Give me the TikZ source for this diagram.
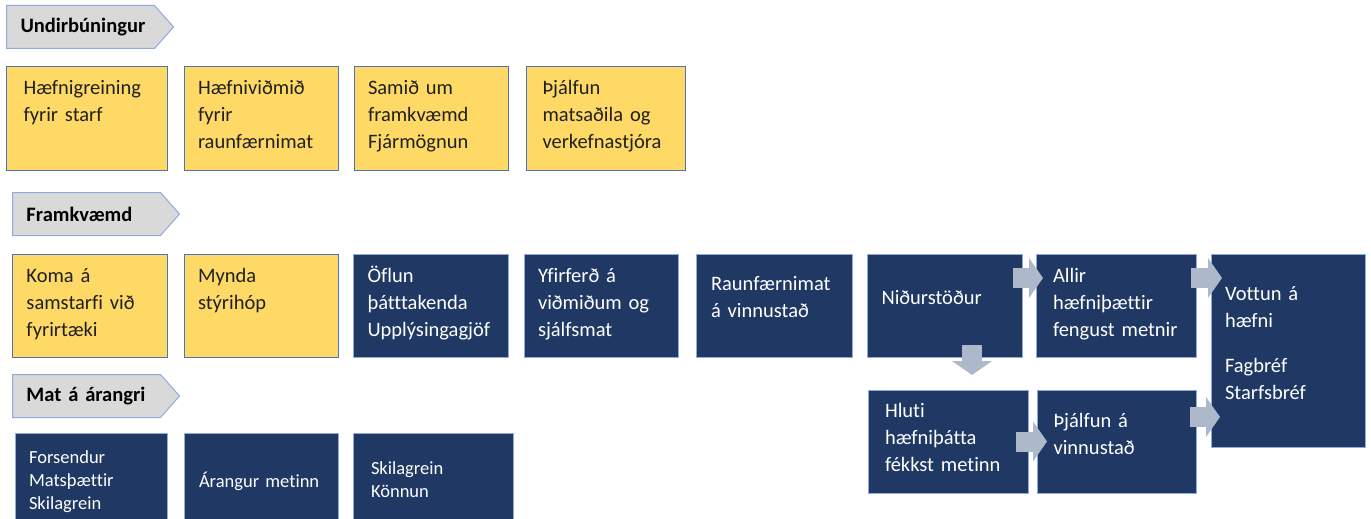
\documentclass[tikz,border=0pt]{standalone}
\usepackage{fontspec}
\setmainfont{Carlito}[Ligatures=NoCommon]
\usepackage{tikz}
\usetikzlibrary{shapes,arrows.meta,positioning,calc}
\definecolor{gold}{HTML}{FFD966}
\definecolor{navy}{HTML}{203864}
\definecolor{edgeblue}{HTML}{4F73B8}
\definecolor{paleblue}{HTML}{8FAADC}
\definecolor{greyfill}{HTML}{D9D9D9}
\definecolor{arrowgrey}{HTML}{ADB9CA}
\definecolor{inkgrey}{HTML}{202020}
\hyphenpenalty=10000
\exhyphenpenalty=10000
\tikzset{
    phase/.style={signal, signal to=east, signal pointer angle=97, draw=paleblue, line width=1pt, fill=greyfill, text width=120pt, align=left, minimum height=43pt, inner xsep=14pt, inner ysep=0pt, font=\fontsize{20.5}{27}\selectfont\bfseries},
    prep/.style={rectangle, draw=edgeblue, line width=1pt, outer sep=0pt, fill=gold, text=inkgrey, text width=126pt, align=left, inner xsep=14pt, inner ysep=0pt, text height=28pt, text depth=75pt, font=\fontsize{20.5}{27}\selectfont},
    task/.style={rectangle, draw=paleblue, line width=0.8pt, outer sep=0pt, fill=navy, text=white, text width=126pt, align=left, inner xsep=14pt, inner ysep=0pt, text height=28pt, text depth=75pt, font=\fontsize{20.5}{27}\selectfont},
    smalltext/.style={text width=124pt, inner xsep=13pt, font=\fontsize{18.5}{23}\selectfont},
    barrow/.style={draw=arrowgrey, line width=20pt, -{Triangle[length=14pt, width=40pt, line width=0pt]}}
}
\begin{document}
\begin{tikzpicture}[x=1pt, y=-1pt]
    \useasboundingbox (0,0) rectangle (1371,519);

    % Undirbuningur
    \node[phase, anchor=north west] (undir) at (6,5) {Undirbúningur};
    \node[prep, anchor=north west, minimum width=161pt] (hgr) at (6,67) {Hæfnigreining\\fyrir starf};
    \node[prep, right=17pt of hgr] (hvm) {Hæfniviðmið\\fyrir\\raunfærnimat};
    \node[prep, right=16pt of hvm] (samid) {Samið um\\framkvæmd\\Fjármögnun};
    \node[prep, right=18pt of samid, minimum width=159pt] (thjalf) {Þjálfun\\matsaðila og\\verkefnastjóra};

    % Framkvaemd
    \node[phase, anchor=north west] (framk) at (12,192) {Framkvæmd};
    \node[prep, anchor=north west, minimum width=155pt] (koma) at (12,254) {Koma á\\samstarfi við\\fyrirtæki};
    \node[prep, right=17pt of koma] (mynda) {Mynda\\stýrihóp};
    \node[task, right=15pt of mynda, minimum width=155pt] (oflun) {Öflun\\þátttakenda\\Upplýsingagjöf};
    \node[task, right=16pt of oflun] (yfir) {Yfirferð á\\viðmiðum og\\sjálfsmat};
    \node[task, right=18pt of yfir, minimum width=156pt, text height=36pt, text depth=67pt] (raun) {Raunfærnimat\\á vinnustað};
    \node[task, right=15pt of raun, minimum width=155pt, text height=50pt, text depth=53pt] (nidur) {Niðurstöður};
    \node[task, right=14pt of nidur, minimum width=160pt] (allir) {Allir\\hæfniþættir\\fengust metnir};
    \node[task, anchor=north west, text height=46pt, text depth=147pt] (vottun) at ([xshift=15pt]allir.north east) {Vottun á\\hæfni\\[18pt]Fagbréf\\Starfsbréf};
    \node[task, anchor=north west, minimum width=160pt, text height=27pt, text depth=76pt] (hluti) at (868,390) {Hluti\\hæfniþátta\\fékkst metinn};
    \node[task, right=9pt of hluti, minimum width=159pt, text height=37pt, text depth=66pt] (thjv) {Þjálfun á\\vinnustað};

    % Mat a arangri
    \node[phase, anchor=north west] (matar) at (12,374) {Mat á árangri};
    \node[task, smalltext, anchor=north west, minimum width=152pt, text height=30pt, text depth=72pt] (fors) at (15,433) {Forsendur\\Matsþættir\\Skilagrein};
    \node[task, smalltext, right=17pt of fors, minimum width=154pt, text height=54pt, text depth=48pt] (arang) {Árangur metinn};
    \node[task, smalltext, right=15pt of arang, minimum width=160pt, text height=41pt, text depth=61pt] (skil) {Skilagrein\\Könnun};

    \draw[barrow] ([xshift=-9pt,yshift=-24pt]nidur.north east) -- ([xshift=7pt,yshift=-24pt]allir.north west);
    \draw[barrow] ([xshift=-5pt,yshift=-24pt]allir.north east) -- ([xshift=11pt,yshift=-24pt]vottun.north west);
    \draw[barrow] ([xshift=-50pt,yshift=12pt]nidur.south east) -- ([xshift=-56pt,yshift=15pt]hluti.north east);
    \draw[barrow] ([xshift=-12pt]hluti.east) -- ([xshift=10pt]thjv.west);
    \draw[barrow] ([xshift=-6pt,yshift=-27pt]thjv.north east) -- ([xshift=9pt,yshift=-163pt]vottun.north west);
\end{tikzpicture}
\end{document}
